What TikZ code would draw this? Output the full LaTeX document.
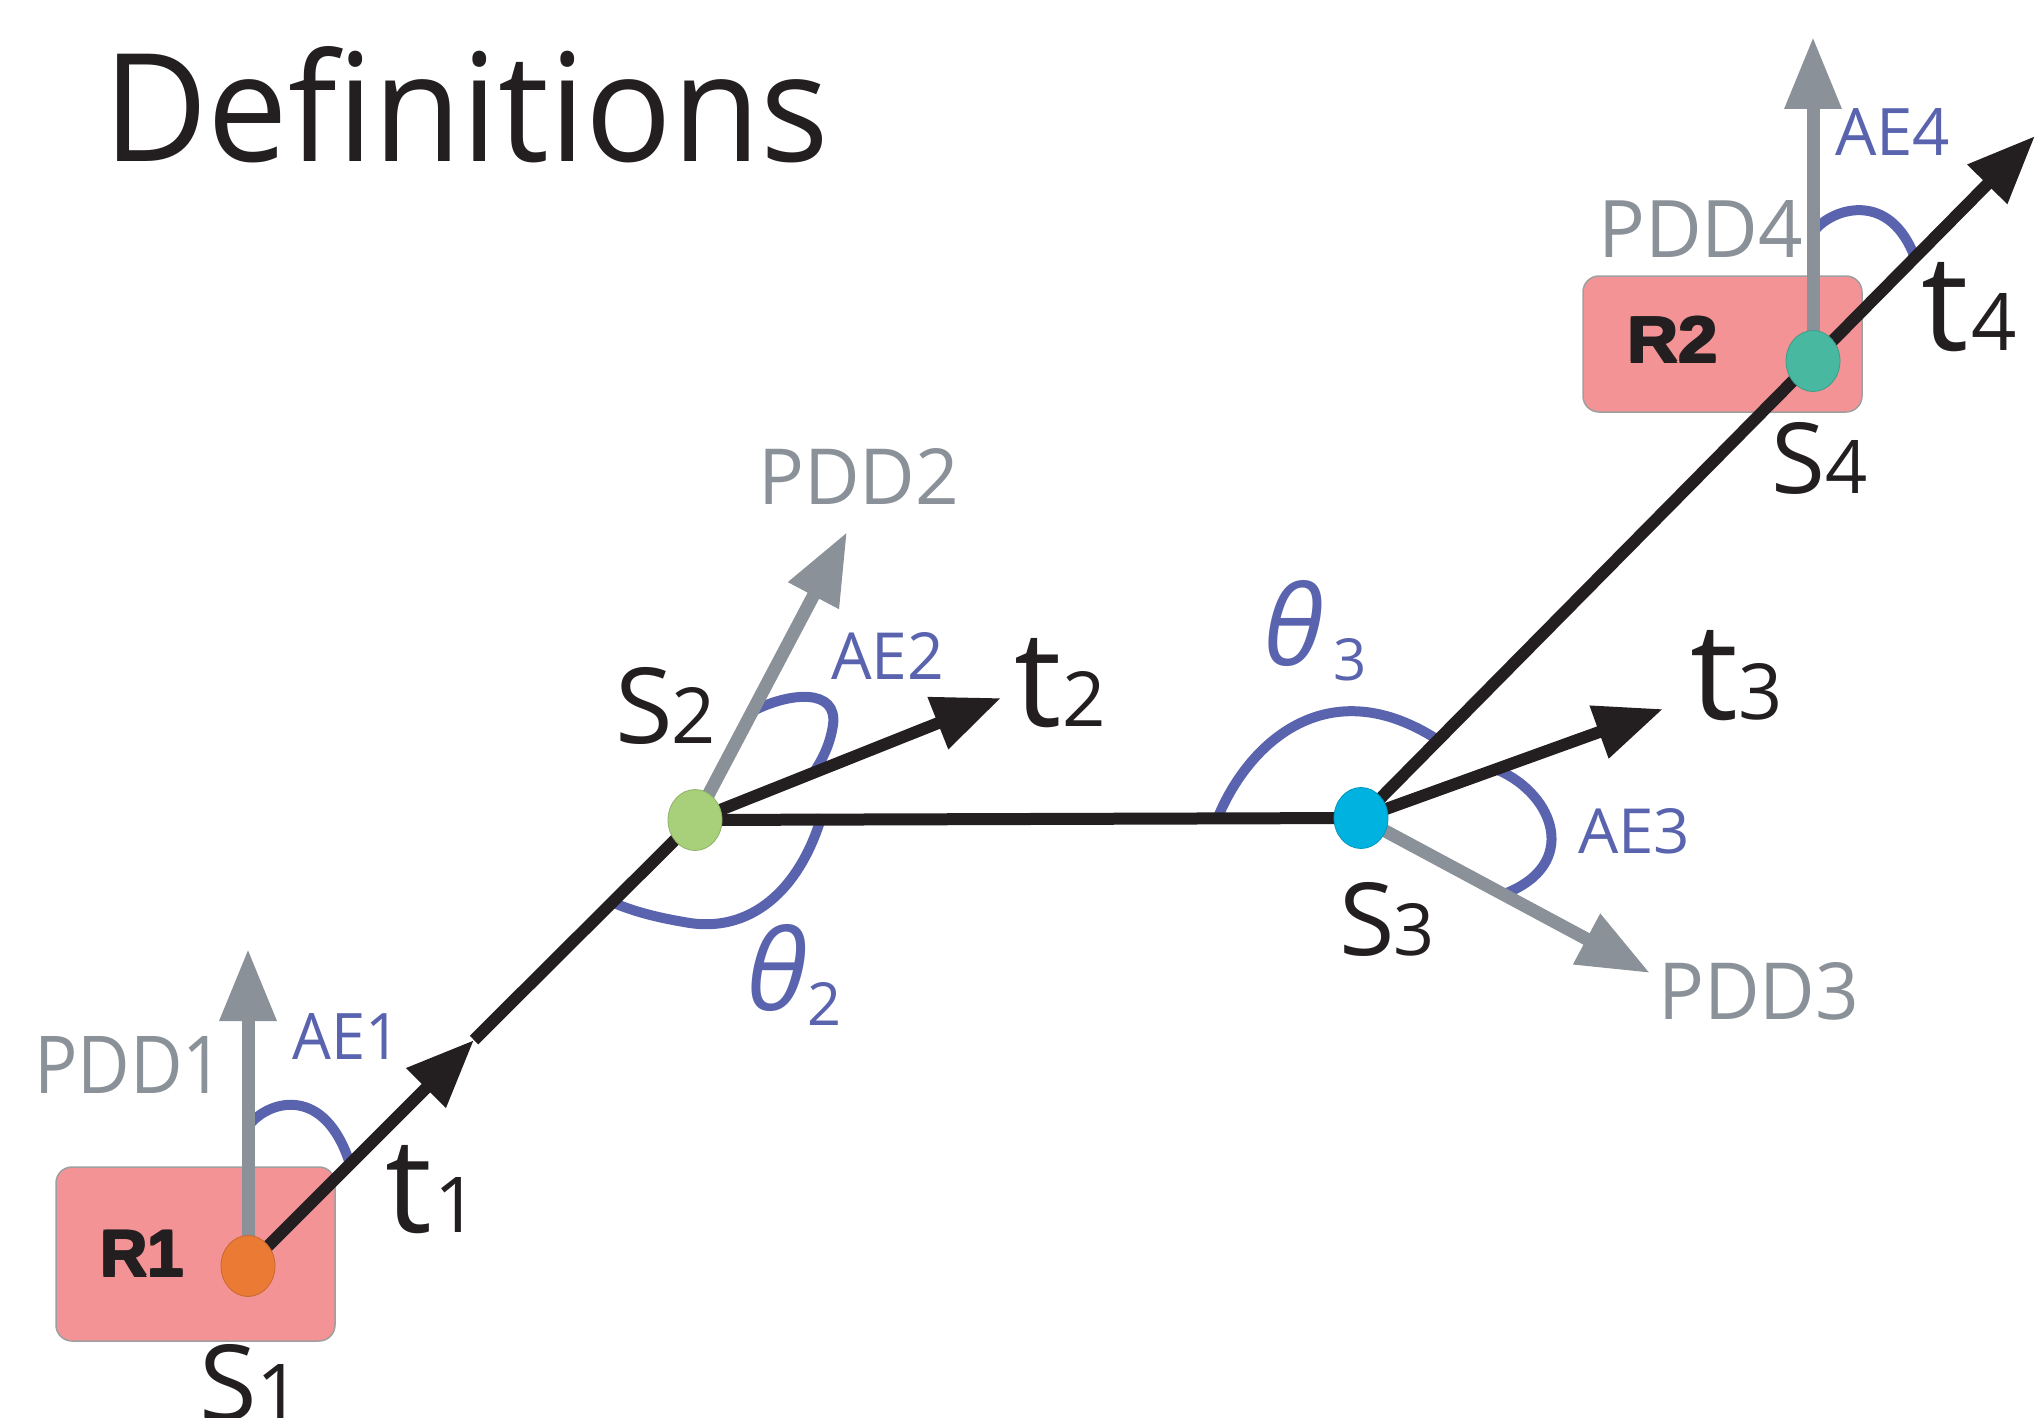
\documentclass[tikz,border=0pt]{standalone}
\usepackage{fontspec}
\setmainfont[Ligatures={NoCommon}]{Open Sans}
\newfontfamily\thetafont{Open Sans}
\newfontfamily\heavyfont{Liberation Sans}
\usetikzlibrary{arrows.meta,shapes.geometric}
\definecolor{ink}{HTML}{231F20}
\definecolor{pddgray}{HTML}{8A9198}
\definecolor{aeblue}{HTML}{5A64AE}
\definecolor{boxpink}{HTML}{F39396}
\definecolor{dotorange}{HTML}{EA7A34}
\definecolor{dotgreen}{HTML}{A8D07A}
\definecolor{dotcyan}{HTML}{00B2E0}
\definecolor{dotteal}{HTML}{48B8A0}
\newcommand\fit[3]{\resizebox{#1pt}{#2pt}{#3}}
\newcommand\fith[2]{\resizebox{!}{#1pt}{#2}}
\newcommand\thicktext[1]{\rlap{#1}\rlap{\raisebox{0.25pt}{#1}}\kern0.35pt\rlap{#1}\raisebox{0.25pt}{#1}}
\begin{document}
\begin{tikzpicture}[x=1pt,y=-1pt,
  lbl/.style={inner sep=0pt, anchor=base west},
  rbox/.style={rectangle, rounded corners=16pt, fill=boxpink, draw=gray!75, line width=1.5pt, inner sep=0pt},
  dot/.style={ellipse, minimum width=54pt, minimum height=61pt, inner sep=0pt, draw=#1!85!black, line width=0.8pt, fill=#1},
  blk/.style={draw=ink, line width=12pt},
  blkarrow/.style={blk, -{Triangle[length=68pt,width=53pt]}},
  pddarrow/.style={draw=pddgray, line width=13pt, -{Triangle[length=72pt,width=54pt]}},
  aearc/.style={draw=aeblue, line width=10pt}
]
\useasboundingbox (0,0) rectangle (2035,1418);
% regions
\node[rbox, minimum width=279pt, minimum height=174pt] (r1box) at (195.5,1254) {};
\node[rbox, minimum width=279pt, minimum height=136pt] (r2box) at (1722.5,344) {};
% key points
\coordinate (c1) at (248,1266);
\coordinate (c2) at (695,820);
\coordinate (c3) at (1361,818);
\coordinate (c4) at (1813,361);
\coordinate (t1tip) at (474,1040);
\coordinate (t2tip) at (1001,698);
\coordinate (t3tip) at (1663,709);
\coordinate (t4tip) at (2035,136);
\coordinate (p1tip) at (248,949);
\coordinate (p2tip) at (847,532);
\coordinate (p3tip) at (1650,973);
\coordinate (p4tip) at (1813,37);
% angle arcs
\draw[aearc] (250,1124) .. controls (270,1100) and (325,1085) .. (350,1164);
\draw[aearc] (1815,230) .. controls (1833,208) and (1890,190) .. (1915,258);
\draw[aearc] (753,711) .. controls (790,692) and (838,688) .. (833,725) .. controls (830,745) and (822,760) .. (814,772);
\draw[aearc] (822,815) .. controls (800,890) and (750,935) .. (684,922) .. controls (660,918) and (635,912) .. (614,903);
\draw[aearc] (1218,817) .. controls (1250,740) and (1330,670) .. (1438,740);
\draw[aearc] (1498,770) .. controls (1555,795) and (1580,865) .. (1504,894);
% PDD arrows
\draw[pddarrow] (c1) -- (p1tip);
\draw[pddarrow] (c2) -- (p2tip);
\draw[pddarrow] (c3) -- (p3tip);
\draw[pddarrow] (c4) -- (p4tip);
% trajectory
\draw[blkarrow] (c1) -- (t1tip);
\draw[blk] (t1tip) -- (c2);
\draw[blk] (c2) -- (c3);
\draw[blkarrow] (c2) -- (t2tip);
\draw[blkarrow] (c3) -- (t3tip);
\draw[blkarrow] (c3) -- (t4tip);
% dots
\node[dot=dotorange] (s1) at (c1) {};
\node[dot=dotgreen] (s2) at (c2) {};
\node[dot=dotcyan] (s3) at (c3) {};
\node[dot=dotteal] (s4) at (c4) {};
% labels
\node[lbl, text=ink] (title) at (103,162) {\fit{725}{115}{Def{}initions}};
\node[lbl, text=ink] (r1lbl) at (99,1277) {\fit{86}{47}{\heavyfont\bfseries\thicktext{R1}}};
\node[lbl, text=ink] (r2lbl) at (1626,363) {\fit{93}{47}{\heavyfont\bfseries\thicktext{R2}}};
\node[lbl, text=pddgray] (pdd1) at (34,1093) {\fit{190}{57}{PDD1}};
\node[lbl, text=pddgray] (pdd2) at (758,504) {\fit{201}{56}{PDD2}};
\node[lbl, text=pddgray] (pdd3) at (1658,1019) {\fit{201}{57}{PDD3}};
\node[lbl, text=pddgray] (pdd4) at (1598,257) {\fit{205}{57}{PDD4}};
\node[lbl, text=aeblue] (ae1) at (292,1059) {\fit{108}{46}{AE1}};
\node[lbl, text=aeblue] (ae2) at (831,679) {\fit{113}{47}{AE2}};
\node[lbl, text=aeblue] (ae3) at (1578,853) {\fit{112}{45}{AE3}};
\node[lbl, text=aeblue] (ae4) at (1835,155) {\fit{115}{47}{AE4}};
\node[lbl, text=ink] (t1lbl) at (385,1232) {\fith{87}{t}\kern3pt\fith{55}{1}};
\node[lbl, text=ink] (t2lbl) at (1014,726) {\fith{88}{t}\kern1pt\fith{55}{2}};
\node[lbl, text=ink] (t3lbl) at (1690,719) {\fith{89}{t}\kern1pt\fith{56}{3}};
\node[lbl, text=ink] (t4lbl) at (1921,350) {\fith{88}{t}\kern3pt\fith{57}{4}};
\node[lbl, text=ink] (s1lbl) at (199,1420) {\fith{76}{S}\kern0pt\fith{56}{1}};
\node[lbl, text=ink] (s2lbl) at (615,743) {\fith{76}{S}\kern-1pt\fith{56}{2}};
\node[lbl, text=ink] (s3lbl) at (1339,955) {\fith{73}{S}\kern-1pt\fith{52}{3}};
\node[lbl, text=ink] (s4lbl) at (1771,493) {\fith{71}{S}\kern0pt\fith{53}{4}};
\node[lbl, text=aeblue] (th2) at (746,1010) {\fith{86}{\thetafont\itshape θ}\kern0pt\raisebox{-15pt}{\fith{43}{2}}};
\node[lbl, text=aeblue] (th3) at (1263,665) {\fith{85}{\thetafont\itshape θ}\kern10pt\raisebox{-15pt}{\fith{42}{3}}};
\end{tikzpicture}
\end{document}
